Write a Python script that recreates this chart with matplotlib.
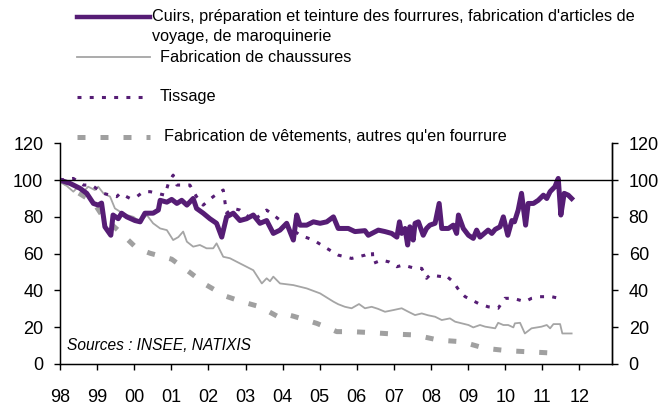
import matplotlib
matplotlib.use("Agg")
import matplotlib.pyplot as plt
from matplotlib.lines import Line2D
import numpy as np

plt.rcParams['font.family'] = ['Liberation Sans', 'DejaVu Sans']

# ---- data (x in years since Jan 1998) ----
cuirs_t = [0.00, 0.27, 0.54, 0.72, 0.90, 1.03, 1.12, 1.21, 1.30, 1.37, 1.43, 1.57, 1.66, 1.80,
           2.02, 2.16, 2.29, 2.51, 2.65, 2.70, 2.88, 3.01, 3.15, 3.28, 3.42, 3.59, 3.68, 3.86,
           4.04, 4.22, 4.36, 4.49, 4.67, 4.85, 5.03, 5.21, 5.39, 5.57, 5.75, 5.93, 6.11, 6.29,
           6.38, 6.47, 6.65, 6.83, 7.01, 7.19, 7.37, 7.50, 7.77, 7.95, 8.22, 8.31, 8.58, 8.76,
           8.94, 9.08, 9.15, 9.21, 9.30, 9.37, 9.43, 9.52, 9.57, 9.66, 9.79, 9.88, 9.97, 10.11,
           10.22, 10.29, 10.47, 10.60, 10.69, 10.74, 10.87, 11.01, 11.14, 11.23, 11.32, 11.54,
           11.64, 11.73, 11.86, 11.95, 12.07, 12.18, 12.25, 12.35, 12.44, 12.55, 12.62, 12.76,
           12.89, 13.03, 13.12, 13.21, 13.34, 13.43, 13.50, 13.59, 13.70, 13.79]
cuirs_v = [100, 98.2, 95.5, 92.8, 87.3, 86.4, 87.5, 74.6, 72, 70, 81, 79, 82, 80,
           78, 77.3, 82, 82, 83.7, 89, 88, 89.5, 87.3, 89, 86.4, 90, 84.6, 82,
           79, 76.5, 69, 80, 82, 78, 79, 81, 76.5, 78, 71, 72.8, 76.5, 67.4,
           81, 75.5, 75.5, 77.3, 76.5, 77.3, 80, 73.7, 73.7, 72, 72.5, 70, 72.8, 72,
           71, 69, 77.3, 71, 73.7, 64.7, 74.6, 67.4, 76.5, 77.3, 70, 73.7, 75.5, 76.5,
           87.3, 73.7, 73.7, 75.5, 71, 81, 73.7, 70, 68.3, 72.8, 69, 72.8,
           71, 73.2, 74.6, 80, 70, 78, 77.3, 83.7, 92.8, 75.5, 87.3, 87.3,
           89, 91.8, 90, 93.7, 96.4, 100.9, 81, 92.8, 91.8, 90]

chaus_t = [0.00, 0.36, 0.49, 0.63, 0.76, 0.94, 1.03, 1.17, 1.35, 1.48, 1.62, 1.80, 1.98, 2.16,
           2.34, 2.51, 2.70, 2.88, 3.05, 3.19, 3.32, 3.42, 3.59, 3.77, 3.95, 4.13, 4.22, 4.40,
           4.58, 4.85, 5.21, 5.44, 5.57, 5.66, 5.75, 5.93, 6.29, 6.65, 7.01, 7.37, 7.50, 7.68,
           7.86, 8.06, 8.22, 8.40, 8.57, 8.76, 8.98, 9.21, 9.39, 9.57, 9.75, 9.92, 10.11, 10.29,
           10.51, 10.65, 10.83, 11.01, 11.14, 11.32, 11.46, 11.73, 11.81, 11.95, 12.08, 12.22,
           12.26, 12.40, 12.53, 12.71, 12.98, 13.12, 13.21, 13.30, 13.48, 13.54, 13.79]
chaus_v = [100, 93.7, 96.4, 93.7, 96.4, 94.6, 96.4, 92.8, 91, 84.6, 82.8, 81, 80, 77.3,
           81, 76.5, 73.7, 72.8, 67.4, 69, 72, 66.5, 63.8, 64.7, 62.9, 62.9, 65.6, 58.3,
           57.5, 54.7, 51, 43.8, 46.6, 45, 47.5, 43.8, 42.9, 41.1, 38.4, 33.9, 32.5, 31.1,
           30.3, 32.6, 30.3, 31.1, 30, 28.4, 29.3, 30.3, 28.4, 26.6, 27.5, 26.5, 25.7, 23.9,
           24.8, 23, 22.1, 21.2, 19.9, 21.2, 20.3, 19.4, 22.4, 21.2, 21.2, 19.9,
           22.1, 22.4, 16.6, 19.4, 20.3, 21.2, 19.4, 21.7, 21.7, 16.6, 16.6]

tiss_t = [0.00, 0.36, 0.63, 0.85, 1.17, 1.35, 1.53, 1.62, 1.89, 2.07, 2.25, 2.43, 2.83, 2.92,
          3.05, 3.15, 3.32, 3.50, 3.68, 3.86, 4.13, 4.40, 4.49, 4.67, 4.85, 5.21, 5.57, 5.75,
          6.11, 6.47, 6.83, 7.19, 7.50, 7.68, 7.86, 8.04, 8.22, 8.42, 8.44, 8.67, 8.87, 9.08,
          9.25, 9.57, 9.75, 9.88, 9.97, 10.29, 10.38, 10.60, 10.78, 10.92, 11.27, 11.54, 11.81,
          11.99, 12.22, 12.53, 12.71, 12.94, 13.25, 13.57]
tiss_v = [100, 100.9, 97.3, 97.3, 92.8, 91.8, 91, 92.8, 90, 91, 93.7, 93.7, 91.8, 98.2,
          102.7, 97.3, 97.3, 97.3, 91, 86.4, 91, 94.6, 82, 84.6, 83.7, 78, 83.7, 81,
          75.5, 70, 67.4, 62.9, 59.2, 58.3, 57.4, 58.3, 59.2, 61, 54.7, 56.5, 55.5, 52.9,
          53.8, 52, 52, 46.6, 48.4, 47.5, 48.4, 44.7, 39.3, 36.6, 33, 31.1, 30.3,
          35.7, 35.7, 33.9, 35.7, 36.6, 36.6, 35.2]

vet_t = [0.00, 0.27, 0.50, 0.90, 1.16, 1.56, 2.07, 2.43, 3.01, 3.42, 3.95, 4.45, 4.90, 5.39,
         5.88, 6.06, 6.29, 6.92, 7.46, 7.86, 8.44, 8.98, 9.57, 10.20, 10.83, 11.46, 12.08,
         12.75, 13.43]
vet_v = [100, 96.7, 93, 88, 80, 72.8, 62.9, 60.2, 57, 51, 42.9, 37, 33.9, 31.1,
         25.7, 27.2, 26, 22.1, 17.6, 17.6, 17, 16.3, 15.8, 13, 12.1, 8.5, 7.2,
         6.5, 5.8]

labels = ["Cuirs, préparation et teinture des fourrures, fabrication d'articles de\nvoyage, de maroquinerie",
          "Fabrication de chaussures",
          "Tissage",
          "Fabrication de vêtements, autres qu'en fourrure"]
year_ticks = list(range(1998, 2013))
year_labels = ["98", "99", "00", "01", "02", "03", "04", "05", "06", "07", "08", "09", "10", "11", "12"]
y_ticks = [0, 20, 40, 60, 80, 100, 120]

PURPLE = '#561D75'
GRAY = '#A5A5A5'
GRAY2 = '#A0A0A0'

W, H = 666, 408
fig = plt.figure(figsize=(W / 100, H / 100), dpi=100)
ax = fig.add_axes([60 / W, 1 - 364 / H, 552 / W, (364 - 143.3) / H])

x0 = 1998
VET_LS = (0, (1.6, 3.0))
TISS_LS = (0, (1.3, 2.7))
ax.plot(x0 + np.array(vet_t), vet_v, color=GRAY2, lw=3.6, ls=VET_LS, zorder=2)
ax.plot(x0 + np.array(chaus_t), chaus_v, color=GRAY, lw=1.3, zorder=3)
ax.plot(x0 + np.array(tiss_t), tiss_v, color=PURPLE, lw=2.2, ls=TISS_LS, zorder=3)
ax.plot(x0 + np.array(cuirs_t), cuirs_v, color=PURPLE, lw=3.6, zorder=4)
ax.axhline(100, color='black', lw=1.0, zorder=5)

ax.set_xlim(1998, 1998 + 552 / 37.1)
ax.set_ylim(0, 120)
ax.set_xticks(year_ticks)
ax.set_xticklabels(year_labels)
ax.set_yticks(y_ticks)
ax.tick_params(axis='x', direction='out', length=4, width=1, pad=14, labelsize=13)
ax.tick_params(axis='y', direction='out', length=4, width=1, pad=8, labelsize=13)
ax.spines['top'].set_visible(False)
for s in ['left', 'right', 'bottom']:
    ax.spines[s].set_linewidth(1.0)
    ax.spines[s].set_color('black')

ax2 = ax.twinx()
ax2.set_ylim(0, 120)
ax2.set_yticks(y_ticks)
ax2.tick_params(axis='y', direction='out', length=4, width=1, pad=8, labelsize=13)
ax2.spines['top'].set_visible(False)
ax2.spines['right'].set_linewidth(1.0)

ax.text(7 / 552, (364 - 346) / (364 - 143.3), "Sources : INSEE, NATIXIS",
        transform=ax.transAxes, fontsize=11.2, style='italic', va='center', ha='left')

# ---- legend drawn in figure pixels ----
def fx(px):
    return px / W

def fy(py):
    return 1 - py / H

LEG_FS = 11.7
leg_y = [17, 57, 97, 137]
styles = [dict(color=PURPLE, lw=3.2), dict(color=GRAY, lw=1.3),
          dict(color=PURPLE, lw=2.2, ls=TISS_LS),
          dict(color=GRAY2, lw=3.6, ls=VET_LS)]
text_x = [152, 160, 160, 164]
for yy, st, lab, tx in zip(leg_y, styles, labels, text_x):
    fig.add_artist(Line2D([fx(77), fx(150)], [fy(yy), fy(yy)], transform=fig.transFigure, **st))
    if "\n" in lab:
        first, second = lab.split("\n")
        fig.text(fx(tx), fy(yy), first, fontsize=LEG_FS, va='center', ha='left')
        fig.text(fx(tx), fy(yy + 20), second, fontsize=LEG_FS, va='center', ha='left')
    else:
        fig.text(fx(tx), fy(yy), lab, fontsize=LEG_FS, va='center', ha='left')

fig.savefig("out.png", dpi=100)
